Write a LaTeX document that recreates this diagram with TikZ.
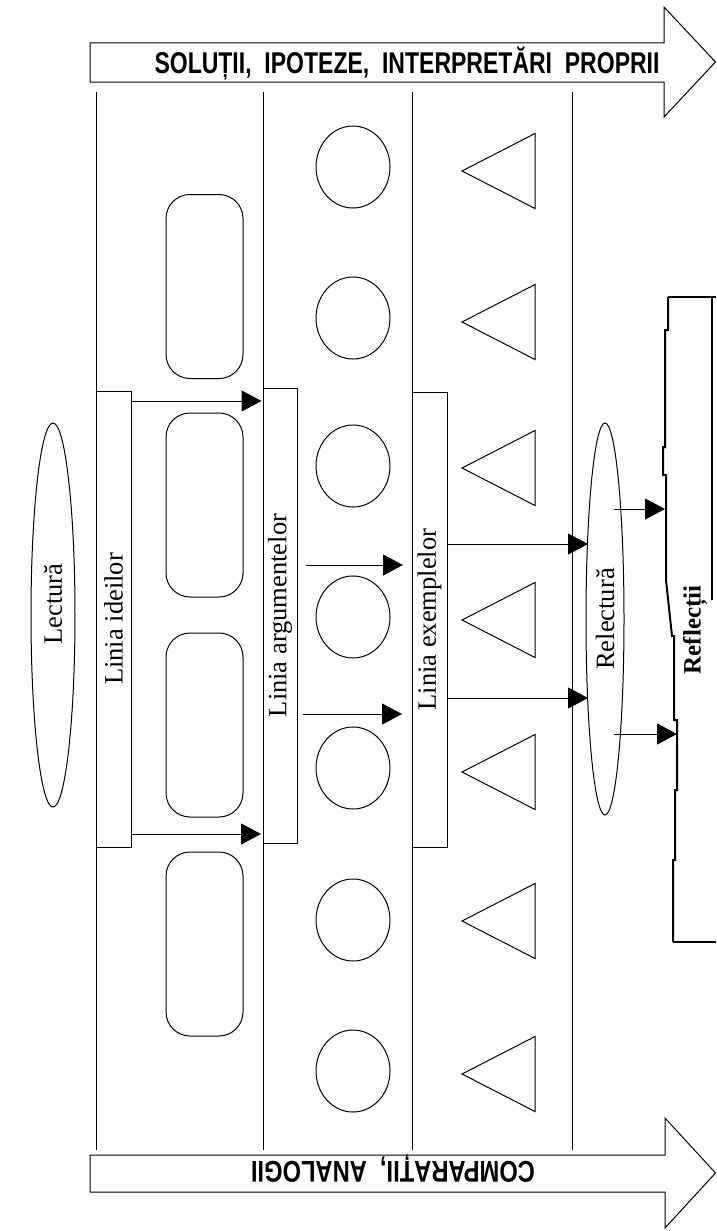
\documentclass[tikz,border=0pt]{standalone}
\usepackage{fontspec}
\setmainfont{Liberation Serif}
\newfontfamily\arialf{Liberation Sans}
\usetikzlibrary{arrows.meta,shapes.geometric}
\begin{document}
\begin{tikzpicture}[x=1pt,y=-1pt,
  ln/.style={line width=1pt, draw=black},
  arr/.style={line width=1pt, -{Triangle[length=20pt,width=21pt]}},
  tbox/.style={draw, line width=1pt, fill=white, inner sep=0pt, outer sep=0pt, minimum width=35pt, minimum height=455pt, font=\fontsize{26.5}{30}\selectfont},
  oval/.style={draw, ellipse, line width=1pt, inner sep=0pt, outer sep=0pt, font=\fontsize{26.5}{30}\selectfont},
  circ/.style={draw, ellipse, line width=1pt, minimum width=74pt, minimum height=82pt, inner sep=0pt, outer sep=0pt},
  rrect/.style={draw, rounded corners=24pt, line width=1pt, minimum width=77pt, minimum height=184pt, inner sep=0pt, outer sep=0pt},
  tri/.style={draw, line width=1pt, line join=miter},
  bigarrow/.style={draw, line width=1pt, fill=white, line join=miter},
  captxt/.style={font=\arialf\bfseries\fontsize{30}{34}\selectfont, inner sep=0pt},
  edge/.style={draw, line width=2pt, line join=miter}
]
\fill[white] (0,0) rectangle (716,1231);
\useasboundingbox (0,0) rectangle (716,1231);

% big arrows
\draw[bigarrow] (90,43) -- (664,43) -- (664,7) -- (715.5,62) -- (664,117) -- (664,82) -- (90,82) -- cycle;
\node[captxt, anchor=base] (soltxt) at (407,73.2) {\scalebox{0.767}[1]{SOLUȚII,\ \ IPOTEZE,\ \ INTERPRETĂRI\ \ PROPRII}};
\draw[bigarrow] (90,1155) -- (665,1155) -- (665,1118) -- (715.5,1173) -- (665,1228) -- (665,1192) -- (90,1192) -- cycle;
\node[captxt] (comptxt) at (393,1169) {\rotatebox{180}{\scalebox{0.79}[1]{COMPARAȚII,\ \ ANALOGII}}};

% vertical lines
\foreach \x/\n in {96/v1,263.5/v2,412.5/v3,572/v4}{
  \coordinate (\n top) at (\x,92);
  \coordinate (\n bot) at (\x,1150);
  \draw[ln] (\n top) -- (\n bot);
}

% rounded rectangles
\foreach \y/\n in {286.5/r1,505/r2,725/r3,944/r4}{
  \node[rrect] (\n) at (204.5,\y) {};
}
% circles
\foreach \y/\n in {167/c1,318/c2,466/c3,617/c4,768/c5,920/c6,1071/c7}{
  \node[circ] (\n) at (353,\y) {};
}
% triangles
\foreach \y/\n in {171/t1,322/t2,468/t3,620/t4,772/t5,921/t6,1074/t7}{
  \coordinate (\n) at (498.5,\y);
  \draw[tri] (\n) ++(36.5,-37.5) -- ++(-73,37.5) -- ++(73,37.5) -- cycle;
}

% text boxes
\node[tbox, minimum height=456pt] (ideilor) at (113.5,619) {\rotatebox{90}{Linia ideilor}};
\node[tbox, minimum width=34pt] (argum) at (280,615.5) {\rotatebox{90}{Linia argumentelor}};
\node[tbox] (exempl) at (429.5,619.5) {\rotatebox{90}{Linia exemplelor}};

% ovals
\node[oval, minimum width=44pt, minimum height=384pt] (lectura) at (53,615) {\rotatebox{90}{\hspace{22pt}Lectură}};
\node[oval, minimum width=38pt, minimum height=392pt] (relectura) at (605,619) {\rotatebox{90}{Relectură}};

% Reflectii shape
\draw[edge, line width=2.5pt] (716,297) -- (668,297);
\draw[edge] (668,297) -- (668,330) -- (665,330) -- (665,447) -- (663,447) -- (663,475) -- (666,475) -- (666,580) -- (672,636) -- (674,636) -- (674,720) -- (677,720) -- (677,790) -- (675,790) -- (675,860) -- (673,860) -- (673,942);
\draw[edge, line width=2.5pt] (673,942) -- (716,942);
\draw[edge] (712,297) -- (712,600);
\node[font=\bfseries\fontsize{25}{28}\selectfont, inner sep=0pt] (reflectii) at (695,630) {\rotatebox{90}{Reflecții}};
\coordinate (rf1) at (665,509);
\coordinate (rf2) at (677,734);

% connectors
\draw[arr, shorten >=1.5pt] (ideilor.east |- 0,401) -- (argum.west |- 0,401);
\draw[arr, shorten >=2pt] (ideilor.east |- 0,834) -- (argum.west |- 0,834);
\draw[arr, shorten <=9pt, shorten >=9pt] (argum.east |- 0,565) -- (exempl.west |- 0,565);
\draw[arr, shorten <=6pt, shorten >=10pt] (argum.east |- 0,714) -- (exempl.west |- 0,714);
\draw[arr, shorten <=1pt, shorten >=17pt] (exempl.east |- 0,544) -- (relectura.center |- 0,544);
\draw[arr, shorten >=17pt] (exempl.east |- 0,698) -- (relectura.center |- 0,698);
\draw[arr, shorten <=9pt] (relectura.center |- 0,509) -- (rf1);
\draw[arr, shorten <=9pt] (relectura.center |- 0,734) -- (rf2);
\end{tikzpicture}
\end{document}
